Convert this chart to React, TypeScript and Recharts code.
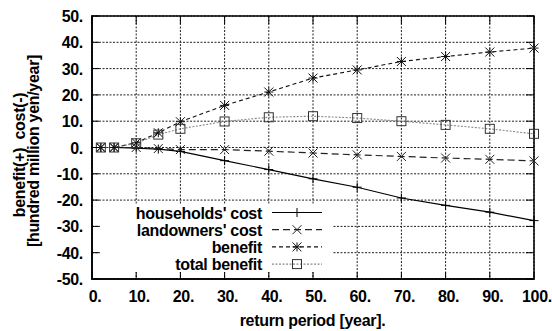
import React from "react";
import { CartesianGrid, Legend, Line, LineChart, ReferenceArea, XAxis, YAxis } from "recharts";

const years = [2, 5, 10, 15, 20, 30, 40, 50, 60, 70, 80, 90, 100];
const householdsCost = [0, 0, -0.2, -0.6, -1.5, -5.0, -8.4, -11.9, -15.1, -19.2, -22.0, -24.6, -27.8];
const landownersCost = [0, 0, 0, -0.4, -0.8, -0.8, -1.4, -2.1, -2.8, -3.4, -4.0, -4.5, -5.1];
const benefit = [0, 0, 1.8, 5.6, 9.8, 16.0, 21.1, 26.4, 29.5, 32.7, 34.6, 36.3, 37.8];
const totalBenefit = [0, 0, 1.6, 4.9, 7.1, 9.9, 11.5, 11.9, 11.2, 10.0, 8.6, 7.1, 5.2];

const xTicks = [0, 10, 20, 30, 40, 50, 60, 70, 80, 90, 100];
const yTicks = [-50, -40, -30, -20, -10, 0, 10, 20, 30, 40, 50];

const data = years.map((year, i) => ({
  year,
  households: householdsCost[i],
  landowners: landownersCost[i],
  benefit: benefit[i],
  total: totalBenefit[i]
}));

const W = 552;
const H = 331;
const margin = { top: 16, right: 18, bottom: 51, left: 91 };
const plotTop = margin.top;
const plotBottom = H - margin.bottom;
const plotLeft = margin.left;
const plotRight = W - margin.right;
const TICK = 8;

const font = "'Liberation Sans', Arial, sans-serif";
const textStyle = { fontFamily: font, fontWeight: 700, fontSize: 16, letterSpacing: -0.3 };

type Marker = "plus" | "cross" | "star" | "square";

function markerShape(kind: Marker, cx: number, cy: number, color: string) {
  const s = 4.5;
  if (kind === "plus") {
    return (
      <g stroke={color} strokeWidth={1}>
        <line x1={cx - s} y1={cy} x2={cx + s} y2={cy} />
        <line x1={cx} y1={cy - s} x2={cx} y2={cy + s} />
      </g>
    );
  }
  if (kind === "cross") {
    return (
      <g stroke={color} strokeWidth={1}>
        <line x1={cx - s} y1={cy - s} x2={cx + s} y2={cy + s} />
        <line x1={cx - s} y1={cy + s} x2={cx + s} y2={cy - s} />
      </g>
    );
  }
  if (kind === "star") {
    return (
      <g stroke={color} strokeWidth={1}>
        <line x1={cx - s} y1={cy - s} x2={cx + s} y2={cy + s} />
        <line x1={cx - s} y1={cy + s} x2={cx + s} y2={cy - s} />
        <line x1={cx - s} y1={cy} x2={cx + s} y2={cy} />
        <line x1={cx} y1={cy - s} x2={cx} y2={cy + s} />
      </g>
    );
  }
  return <rect x={cx - s} y={cy - s} width={2 * s} height={2 * s} fill="none" stroke={color} strokeWidth={1} />;
}

const dot = (kind: Marker, color: string) => (props: any) => {
  const { cx, cy, index } = props;
  if (cx == null || cy == null) return <g key={index} />;
  return <g key={index}>{markerShape(kind, cx, cy, color)}</g>;
};

const series = [
  { key: "households", name: "households' cost", color: "#000", mark: "#000", dash: undefined, marker: "plus" as Marker, width: 1.2 },
  { key: "landowners", name: "landowners' cost", color: "#222", mark: "#222", dash: "7 4", marker: "cross" as Marker, width: 1.2 },
  { key: "benefit", name: "benefit", color: "#111", mark: "#111", dash: "4 3", marker: "star" as Marker, width: 1.1 },
  { key: "total", name: "total benefit", color: "#888", mark: "#333", dash: "2 1.5", marker: "square" as Marker, width: 1.1 }
];

function XTick(props: any) {
  const { x, payload } = props;
  return (
    <g>
      <line x1={x} y1={plotBottom} x2={x} y2={plotBottom - TICK} stroke="#000" strokeWidth={1} />
      <line x1={x} y1={plotTop} x2={x} y2={plotTop + TICK} stroke="#000" strokeWidth={1} />
      <text x={x + 3} y={plotBottom + 22} textAnchor="middle" fill="#000" style={textStyle}>
        {String(payload.value) + "."}
      </text>
    </g>
  );
}

function YTick(props: any) {
  const { y, payload } = props;
  return (
    <g>
      <line x1={plotLeft} y1={y} x2={plotLeft + TICK} y2={y} stroke="#000" strokeWidth={1} />
      <line x1={plotRight} y1={y} x2={plotRight - TICK} y2={y} stroke="#000" strokeWidth={1} />
      <text x={plotLeft - 8} y={y + 6} textAnchor="end" fill="#000" style={textStyle}>
        {String(payload.value) + "."}
      </text>
    </g>
  );
}

function LegendBox() {
  return (
    <div style={{ background: "#fff", width: "100%", height: "100%" }}>
      <svg width={232} height={67} style={{ display: "block", overflow: "visible" }}>
        {series.map((s, i) => {
          const cy = 7.5 + i * 17.2;
          return (
            <g key={s.key}>
              <text x={162} y={cy + 6} textAnchor="end" fill="#000" style={textStyle}>
                {s.name}
              </text>
              <line x1={172} y1={cy} x2={222} y2={cy} stroke={s.color} strokeWidth={s.width} strokeDasharray={s.dash} />
              {markerShape(s.marker, 197, cy, s.mark)}
            </g>
          );
        })}
      </svg>
    </div>
  );
}

function Titles() {
  const cy = 151;
  return (
    <svg width={W} height={H} style={{ position: "absolute", left: 0, top: 0, pointerEvents: "none" }}>
      <text transform={`translate(25,${cy + 4}) rotate(-90)`} textAnchor="middle" fill="#000" style={{ ...textStyle, whiteSpace: "pre" }}>
        {"benefit(+)  cost(-)"}
      </text>
      <text transform={`translate(39,${cy}) rotate(-90)`} textAnchor="middle" fill="#000" style={textStyle}>
        [hundred million yen/year]
      </text>
      <text x={(plotLeft + plotRight) / 2} y={326} textAnchor="middle" fill="#000" style={textStyle}>
        return period [year].
      </text>
    </svg>
  );
}

export default function App() {
  return (
    <div style={{ position: "absolute", left: 0, top: 0, width: W, height: H, background: "#fff" }}>
      <LineChart width={W} height={H} data={data} margin={margin} style={{ overflow: "visible" }}>
        <CartesianGrid stroke="#222" strokeDasharray="2 1.5" strokeWidth={1} />
        <XAxis
          dataKey="year"
          type="number"
          domain={[0, 100]}
          ticks={xTicks}
          height={1}
          tickSize={0}
          tickMargin={0}
          tickLine={false}
          axisLine={{ stroke: "#000", strokeWidth: 1.5 }}
          tick={<XTick />}
          interval={0}
        />
        <YAxis
          type="number"
          domain={[-50, 50]}
          ticks={yTicks}
          width={1}
          tickSize={0}
          tickMargin={0}
          tickLine={false}
          axisLine={{ stroke: "#000", strokeWidth: 1.5 }}
          tick={<YTick />}
          interval={0}
        />
        <ReferenceArea x1={0} x2={100} y1={-50} y2={50} fill="none" stroke="#000" strokeWidth={1.5} ifOverflow="visible" />
        {series.map((s) => (
          <Line
            key={s.key}
            dataKey={s.key}
            name={s.name}
            type="linear"
            stroke={s.color}
            strokeWidth={s.width}
            strokeDasharray={s.dash}
            dot={dot(s.marker, s.mark)}
            activeDot={false}
            isAnimationActive={false}
          />
        ))}
        <Legend
          layout="vertical"
          align="center"
          verticalAlign="middle"
          content={() => <LegendBox />}
          wrapperStyle={{ left: 100, top: 205, width: 232, height: 67 }}
        />
      </LineChart>
      <Titles />
    </div>
  );
}
